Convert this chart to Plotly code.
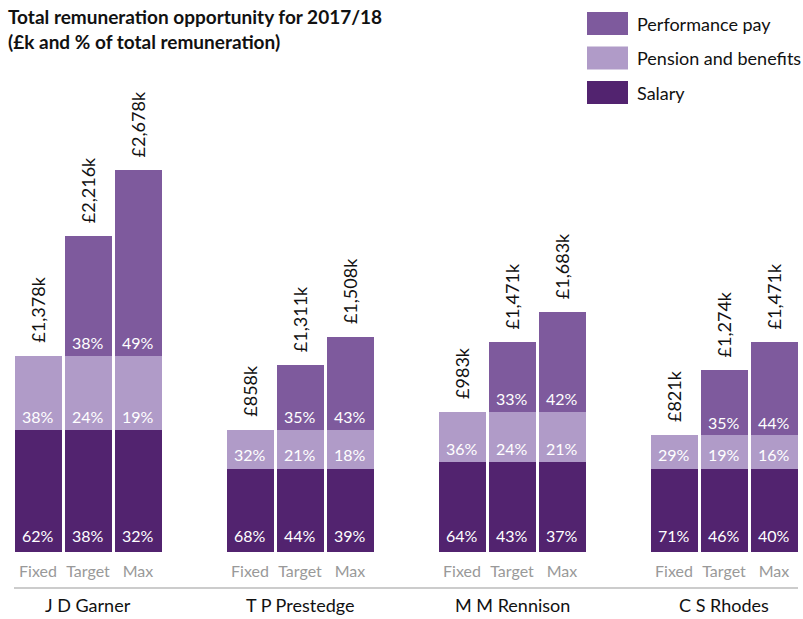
import plotly.graph_objects as go

people = ["J D Garner", "T P Prestedge", "M M Rennison", "C S Rhodes"]
scenarios = ["Fixed", "Target", "Max"]

# £k values per bar (Fixed, Target, Max for each person)
salary = [854, 854, 854, 583, 583, 583, 629, 629, 629, 583, 583, 583]
pension = [524, 524, 524, 275, 275, 275, 354, 354, 354, 238, 238, 238]
performance = [0, 838, 1300, 0, 453, 650, 0, 488, 700, 0, 453, 650]
totals = [1378, 2216, 2678, 858, 1311, 1508, 983, 1471, 1683, 821, 1274, 1471]

salary_pct = ["62%", "38%", "32%", "68%", "44%", "39%", "64%", "43%", "37%", "71%", "46%", "40%"]
pension_pct = ["38%", "24%", "19%", "32%", "21%", "18%", "36%", "24%", "21%", "29%", "19%", "16%"]
perf_pct = ["", "38%", "49%", "", "35%", "43%", "", "33%", "42%", "", "35%", "44%"]

C_SAL = "#52236f"
C_PEN = "#b09bc8"
C_PERF = "#7e5a9d"
FONT = "Lato"

GROUP_STEP = 4.24
xs = [g * GROUP_STEP + b for g in range(len(people)) for b in range(len(scenarios))]
tick_text = [s for _ in people for s in scenarios]

fig = go.Figure()
common = dict(x=xs, width=0.94, marker_line_width=0, hoverinfo="skip")
fig.add_trace(go.Bar(y=salary, marker_color=C_SAL, name="Salary", **common))
fig.add_trace(go.Bar(y=pension, marker_color=C_PEN, name="Pension and benefits", **common))
fig.add_trace(go.Bar(y=performance, marker_color=C_PERF, name="Performance pay", **common))

pct_font = dict(size=16, color="white", family=FONT)
for i, x in enumerate(xs):
    fig.add_annotation(x=x, y=0, text=salary_pct[i], showarrow=False, yanchor="middle",
                       yshift=17, font=pct_font)
    fig.add_annotation(x=x, y=salary[i], text=pension_pct[i], showarrow=False, yanchor="middle",
                       yshift=14, font=pct_font)
    if perf_pct[i]:
        fig.add_annotation(x=x, y=salary[i] + pension[i], text=perf_pct[i], showarrow=False,
                           yanchor="middle", yshift=13, font=pct_font)

for x, t in zip(xs, totals):
    fig.add_annotation(x=x, y=t, text=f"£{t:,}k", textangle=-90, showarrow=False,
                       xanchor="center", yanchor="bottom", yshift=11,
                       font=dict(size=18, color="#111", family=FONT))

for g, p in enumerate(people):
    fig.add_annotation(x=g * GROUP_STEP + 1, y=-(605 - 552) / 552, yref="paper", text=p,
                       showarrow=False, xanchor="center", yanchor="middle",
                       font=dict(size=18, color="#111", family=FONT))

# separator line under tick labels
fig.add_shape(type="line", xref="paper", yref="paper", x0=14 / 803, x1=798 / 803,
              y0=-36 / 552, y1=-36 / 552, line=dict(color="#cccccc", width=2))

# custom legend
legend_items = [("Performance pay", C_PERF), ("Pension and benefits", C_PEN), ("Salary", C_SAL)]
for i, (lab, col) in enumerate(legend_items):
    yc = 23.5 + i * 34.5
    fig.add_shape(type="rect", xref="paper", yref="paper",
                  x0=587 / 803, x1=628 / 803,
                  y0=1 - (yc + 11.5) / 552, y1=1 - (yc - 11.5) / 552,
                  fillcolor=col, line_width=0)
    fig.add_annotation(xref="paper", yref="paper", x=635 / 803, y=1 - yc / 552, text=lab,
                       showarrow=False, xanchor="left", yanchor="middle",
                       font=dict(size=18, color="#111", family=FONT))

fig.add_annotation(xref="paper", yref="paper", x=6 / 803, y=1 - 3 / 552,
                   text="<b>Total remuneration opportunity for 2017/18<br>(£k and % of total remuneration)</b>",
                   showarrow=False, xanchor="left", yanchor="top", align="left",
                   font=dict(size=19, color="#111", family=FONT))

fig.update_layout(
    barmode="stack", width=803, height=619, showlegend=False,
    margin=dict(l=0, r=0, t=0, b=67),
    paper_bgcolor="white", plot_bgcolor="white",
    xaxis=dict(range=[-0.76, -0.76 + 803 / 50], tickvals=xs, ticktext=tick_text,
               showgrid=False, zeroline=False, showline=False, ticks="",
               ticklabelstandoff=8,
               tickfont=dict(size=16, color="#999999", family=FONT)),
    yaxis=dict(range=[0, 552 / 0.1425], visible=False),
)

fig.write_html("out.html", config={"displayModeBar": False},
               post_script="document.body.style.margin='0';")
